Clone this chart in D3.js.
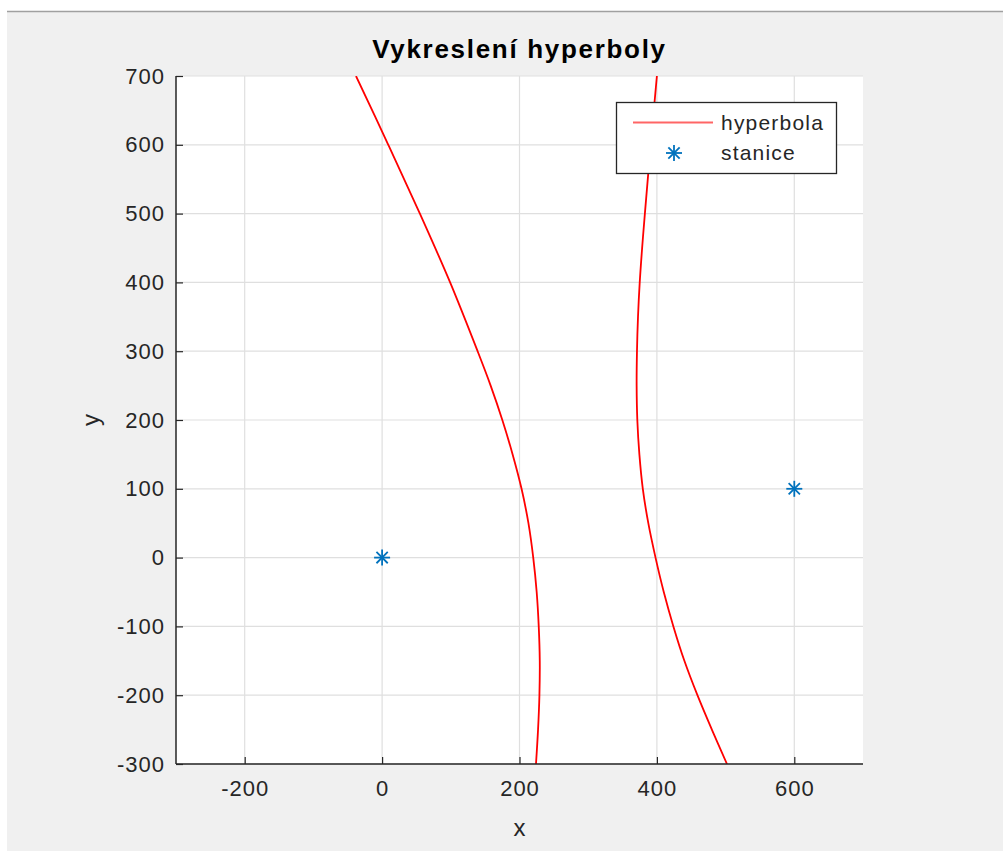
<!DOCTYPE html>
<html>
<head>
<meta charset="utf-8">
<script src="https://cdn.jsdelivr.net/npm/d3@7"></script>
<style>
  html, body { margin: 0; padding: 0; background: #ffffff; }
  svg { display: block; }
  text { font-family: "Liberation Sans", Arial, Helvetica, sans-serif; }
</style>
</head>
<body>
<svg id="chart" width="1003" height="851"></svg>
<script>
// Stations (receivers)
const stationX = [0, 600];
const stationY = [0, 100];

// Left branch of the hyperbola (x, y)
const branchLeftX = [-38, 9, 55, 99, 139, 158, 175, 190, 203, 213, 220, 225, 228, 229.5, 229, 227, 224];
const branchLeftY = [700, 600, 500, 400, 300, 250, 200, 150, 100, 50, 0, -50, -100, -150, -200, -250, -300];

// Right branch of the hyperbola (x, y)
const branchRightX = [400, 391, 382.5, 378.5, 375, 372.5, 371, 370.5, 371.5, 374.5, 379.5, 387.5, 398, 410, 424, 440, 459, 480, 502];
const branchRightY = [700, 600, 500, 450, 400, 350, 300, 250, 200, 150, 100, 50, 0, -50, -100, -150, -200, -250, -300];

// Axis ticks
const xTicks = [-200, 0, 200, 400, 600];
const yTicks = [-300, -200, -100, 0, 100, 200, 300, 400, 500, 600, 700];
const xDomain = [-300, 700];
const yDomain = [-300, 700];

const titleText = "Vykreslení hyperboly";
const xLabel = "x";
const yLabel = "y";
const legendLabels = ["hyperbola", "stanice"];

const W = 1003, H = 851;
const plot = { left: 176, right: 863, top: 76, bottom: 764 };
const axisColor = "#262626";
const gridColor = "#dfdfdf";
const lineColor = "#ff0000";
const markerColor = "#0072bd";

const svg = d3.select("#chart");

// Figure window background
svg.append("rect").attr("x", 0).attr("y", 0).attr("width", W).attr("height", H).attr("fill", "#ffffff");
svg.append("rect").attr("x", 7).attr("y", 11).attr("width", W - 7).attr("height", H - 11).attr("fill", "#f0f0f0");
svg.append("line").attr("x1", 7).attr("x2", W).attr("y1", 11.5).attr("y2", 11.5)
  .attr("stroke", "#a0a0a0").attr("stroke-width", 1.5);

const x = d3.scaleLinear().domain(xDomain).range([plot.left, plot.right]);
const y = d3.scaleLinear().domain(yDomain).range([plot.bottom, plot.top]);

// Axes background
svg.append("rect")
  .attr("x", plot.left).attr("y", plot.top)
  .attr("width", plot.right - plot.left).attr("height", plot.bottom - plot.top)
  .attr("fill", "#ffffff");

// Grid
const grid = svg.append("g").attr("class", "grid");
grid.selectAll("line.gx").data(xTicks).join("line")
  .attr("class", "gx")
  .attr("x1", d => x(d)).attr("x2", d => x(d))
  .attr("y1", plot.top).attr("y2", plot.bottom)
  .attr("stroke", gridColor).attr("stroke-width", 1.2);
grid.selectAll("line.gy").data(yTicks).join("line")
  .attr("class", "gy")
  .attr("x1", plot.left).attr("x2", plot.right)
  .attr("y1", d => y(d)).attr("y2", d => y(d))
  .attr("stroke", gridColor).attr("stroke-width", 1.2);

// Curves, clipped to the axes box
svg.append("clipPath").attr("id", "plotClip")
  .append("rect")
  .attr("x", plot.left).attr("y", plot.top)
  .attr("width", plot.right - plot.left).attr("height", plot.bottom - plot.top);

const line = d3.line()
  .x(d => x(d[0])).y(d => y(d[1]))
  .curve(d3.curveCatmullRom.alpha(0.5));

const leftPts = branchLeftX.map((v, i) => [v, branchLeftY[i]]);
const rightPts = branchRightX.map((v, i) => [v, branchRightY[i]]);

const curves = svg.append("g").attr("clip-path", "url(#plotClip)");
[leftPts, rightPts].forEach(pts => {
  curves.append("path")
    .attr("d", line(pts))
    .attr("fill", "none")
    .attr("stroke", lineColor)
    .attr("stroke-width", 1.8);
});

// Asterisk marker
function asterisk(g, cx, cy, r) {
  const a = r * Math.SQRT1_2;
  const segs = [[-r, 0, r, 0], [0, -r, 0, r], [-a, -a, a, a], [-a, a, a, -a]];
  segs.forEach(s => {
    g.append("line")
      .attr("x1", cx + s[0]).attr("y1", cy + s[1])
      .attr("x2", cx + s[2]).attr("y2", cy + s[3])
      .attr("stroke", markerColor).attr("stroke-width", 1.8);
  });
}

const markers = svg.append("g");
stationX.forEach((sx, i) => asterisk(markers, x(sx), y(stationY[i]), 8));

// Axes
const tickFont = 22;
const xAxis = svg.append("g")
  .attr("transform", `translate(0,${plot.bottom})`)
  .call(d3.axisBottom(x).tickValues(xTicks).tickSize(-7).tickPadding(16).tickFormat(d3.format("d")));
const yAxis = svg.append("g")
  .attr("transform", `translate(${plot.left},0)`)
  .call(d3.axisLeft(y).tickValues(yTicks).tickSize(-7).tickPadding(11).tickFormat(d3.format("d")));

[xAxis, yAxis].forEach(ax => {
  ax.select(".domain").remove();
  ax.selectAll(".tick line").attr("stroke", axisColor).attr("stroke-width", 1.2);
  ax.selectAll(".tick text")
    .attr("fill", axisColor)
    .style("font-size", tickFont + "px")
    .style("letter-spacing", "1px")
    .text(d => d3.format("d")(d).replace("−", "-"));
});

// Left and bottom axis lines
svg.append("line")
  .attr("x1", plot.left).attr("x2", plot.left)
  .attr("y1", plot.top).attr("y2", plot.bottom)
  .attr("stroke", axisColor).attr("stroke-width", 1.5);
svg.append("line")
  .attr("x1", plot.left).attr("x2", plot.right)
  .attr("y1", plot.bottom).attr("y2", plot.bottom)
  .attr("stroke", axisColor).attr("stroke-width", 1.5);

// Title and axis labels
svg.append("text")
  .attr("x", (plot.left + plot.right) / 2).attr("y", 58)
  .attr("text-anchor", "middle")
  .style("font-size", "26px").style("font-weight", "bold")
  .style("letter-spacing", "1.7px")
  .attr("fill", "#000000")
  .text(titleText);

svg.append("text")
  .attr("x", (plot.left + plot.right) / 2).attr("y", 836)
  .attr("text-anchor", "middle")
  .style("font-size", "24px")
  .attr("fill", axisColor)
  .text(xLabel);

svg.append("text")
  .attr("transform", `translate(99,${(plot.top + plot.bottom) / 2}) rotate(-90)`)
  .attr("text-anchor", "middle")
  .style("font-size", "24px")
  .attr("fill", axisColor)
  .text(yLabel);

// Legend
const legend = svg.append("g");
legend.append("rect")
  .attr("x", 616.5).attr("y", 102.5).attr("width", 220).attr("height", 71)
  .attr("fill", "#ffffff").attr("stroke", axisColor).attr("stroke-width", 1.3);
legend.append("line")
  .attr("x1", 633).attr("x2", 713).attr("y1", 122.5).attr("y2", 122.5)
  .attr("stroke", lineColor).attr("stroke-width", 2).attr("opacity", 0.6);
asterisk(legend, 674, 153, 8);
legendLabels.forEach((t, i) => {
  legend.append("text")
    .attr("x", 721).attr("y", 123 + i * 30)
    .attr("dy", "0.35em")
    .style("font-size", "21px")
    .style("letter-spacing", "1.2px")
    .attr("fill", axisColor)
    .text(t);
});
</script>
</body>
</html>
